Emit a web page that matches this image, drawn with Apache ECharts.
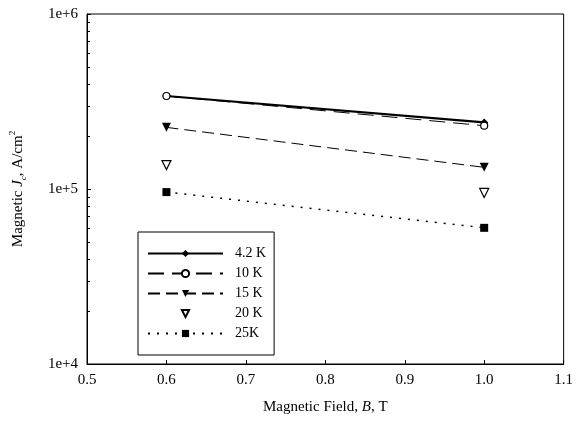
<!DOCTYPE html>
<html>
<head>
<meta charset="utf-8">
<script src="https://cdn.jsdelivr.net/npm/echarts@6/dist/echarts.min.js"></script>
<style>
  html, body { margin: 0; padding: 0; background: #fff; }
  #chart { width: 576px; height: 425px; }
</style>
</head>
<body>
<div id="chart"></div>
<script>
// magnetic field B (T)
var fields = [0.6, 1.0];
// Jc values (A/cm2) per temperature
var j42 = [3.4e5, 2.4e5];
var j10 = [3.4e5, 2.3e5];
var j15 = [2.25e5, 1.33e5];
var j20 = [1.37e5, 9.5e4];
var j25 = [9.6e4, 6.0e4];
var names = ['4.2 K', '10 K', '15 K', '20 K', '25K'];
var minorTicks = [2e4, 3e4, 4e4, 5e4, 6e4, 7e4, 8e4, 9e4, 2e5, 3e5, 4e5, 5e5, 6e5, 7e5, 8e5, 9e5];

var FONT = 'Liberation Serif';

function pairs(vals) {
    return fields.map(function (b, i) { return [b, vals[i]]; });
}

var chart = echarts.init(document.getElementById('chart'));

var option = {
    animation: false,
    backgroundColor: '#fff',
    textStyle: { fontFamily: FONT, color: '#000' },
    grid: {
        left: 86, right: 7, top: 14, bottom: 61,
        show: true, borderColor: '#000', borderWidth: 1
    },
    legend: {
        orient: 'vertical',
        left: 138, top: 232,
        itemWidth: 75, itemHeight: 9, itemGap: 5,
        padding: [14, 8, 14, 9],
        borderColor: '#000', borderWidth: 1,
        backgroundColor: '#fff',
        textStyle: { fontFamily: FONT, fontSize: 14, lineHeight: 15, color: '#000', padding: [0, 0, 0, 7] },
        data: names
    },
    xAxis: {
        type: 'value',
        min: 0.5, max: 1.1, interval: 0.1,
        name: '{n|Magnetic Field, }{i|B}{n|, T}',
        nameLocation: 'middle', nameGap: 36,
        nameTextStyle: {
            rich: {
                n: { fontFamily: FONT, fontSize: 15, color: '#000' },
                i: { fontFamily: FONT, fontSize: 15, color: '#000', fontStyle: 'italic' }
            }
        },
        axisLine: { show: true, lineStyle: { color: '#000', width: 1 } },
        axisTick: { show: true, inside: true, length: 4, lineStyle: { color: '#000' } },
        axisLabel: {
            fontFamily: FONT, fontSize: 15, color: '#000', margin: 9,
            formatter: function (v) { return v.toFixed(1); }
        },
        splitLine: { show: false }
    },
    yAxis: {
        type: 'log', logBase: 10,
        min: 1e4, max: 1e6,
        name: '{n|Magnetic }{i|J}{s|c}{n|, A/cm}{p|2}',
        nameLocation: 'middle', nameGap: 59, nameRotate: 90,
        nameTextStyle: {
            rich: {
                n: { fontFamily: FONT, fontSize: 15, color: '#000', lineHeight: 20 },
                i: { fontFamily: FONT, fontSize: 15, color: '#000', fontStyle: 'italic', lineHeight: 20 },
                s: { fontFamily: FONT, fontSize: 9, color: '#000', fontStyle: 'italic', verticalAlign: 'bottom', lineHeight: 20 },
                p: { fontFamily: FONT, fontSize: 9, color: '#000', verticalAlign: 'top', lineHeight: 20 }
            }
        },
        axisLine: { show: true, lineStyle: { color: '#000', width: 1 } },
        axisTick: { show: true, inside: true, length: 4, lineStyle: { color: '#000' } },
        axisLabel: {
            fontFamily: FONT, fontSize: 15, color: '#000', margin: 9,
            formatter: function (v) { return '1e+' + Math.round(Math.log10(v)); }
        },
        splitLine: { show: false }
    },
    series: [
        {
            name: names[0], type: 'line', data: pairs(j42),
            symbol: 'diamond', symbolSize: 8,
            itemStyle: { color: '#000' },
            lineStyle: { color: '#000', width: 2.2, type: 'solid' }
        },
        {
            name: names[1], type: 'line', data: pairs(j10),
            symbol: 'circle', symbolSize: 7,
            itemStyle: { color: '#fff', borderColor: '#000', borderWidth: 1.2 },
            lineStyle: { color: '#000', width: 1, type: [16, 8] }
        },
        {
            name: names[2], type: 'line', data: pairs(j15),
            symbol: 'triangle', symbolSize: 9, symbolRotate: 180,
            itemStyle: { color: '#000' },
            lineStyle: { color: '#000', width: 1, type: [12, 6] }
        },
        {
            // points only, no connecting line
            name: names[3], type: 'line', data: pairs(j20),
            symbol: 'triangle', symbolSize: 9, symbolRotate: 180,
            itemStyle: { color: '#fff', borderColor: '#000', borderWidth: 1.2 },
            lineStyle: { opacity: 0, width: 0 }
        },
        {
            name: names[4], type: 'line', data: pairs(j25),
            symbol: 'rect', symbolSize: 8,
            itemStyle: { color: '#000' },
            lineStyle: { color: '#000', width: 1.5, type: [2, 7] }
        }
    ]
};

chart.setOption(option);

// log minor ticks on the y axis, placed through the axis scale
var x0 = chart.convertToPixel({ xAxisIndex: 0 }, 0.5);
var ticks = minorTicks.map(function (v) {
    var y = Math.round(chart.convertToPixel({ yAxisIndex: 0 }, v)) + 0.5;
    return {
        type: 'line',
        shape: { x1: x0, y1: y, x2: x0 + 3, y2: y },
        style: { stroke: '#000', lineWidth: 1 },
        silent: true
    };
});
chart.setOption({ graphic: ticks });
</script>
</body>
</html>
